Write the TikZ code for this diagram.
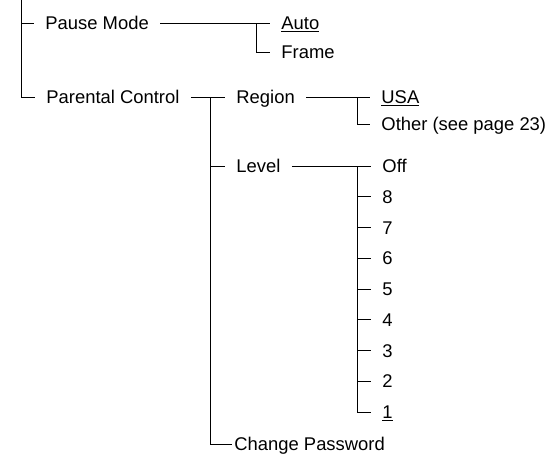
\documentclass[tikz,border=0pt]{standalone}
\usepackage{fontspec}
\setmainfont{Liberation Sans}
\usetikzlibrary{calc}

\begin{document}
\begin{tikzpicture}[x=1pt,y=-1pt,line width=0.9pt,
  item/.style={anchor=west,inner xsep=11pt,inner ysep=0pt,
    text height=13.2pt,text depth=0pt,font=\fontsize{18.4}{22}\selectfont}]
\useasboundingbox (0,0) rectangle (551,455);
\coordinate (top) at (21,0);
\coordinate (pmj) at (256,23);
\coordinate (pcj) at (210,97);
\coordinate (rgj) at (357,97);
\coordinate (lvj) at (357,166);
% first level
\node[item] (pause) at (34,23) {Pause Mode};
\node[item] (parent) at (35,97) {Parental Control};
\draw (top) |- (pause.west);
\draw (top) |- (parent.west);
% pause mode
\node[item] (auto) at (270,23) {\underline{Auto}};
\node[item] (frame) at (270,52) {Frame};
\draw (pause.east) -- (auto.west);
\draw (pmj) |- (frame.west);
% parental control
\node[item] (region) at (225,97) {Region};
\node[item] (level) at (225,166) {Level};
\node[item,inner xsep=2pt] (passwd) at (232,444) {Change Password};
\draw (parent.east) -- (region.west);
\draw (pcj) |- (level.west);
\draw (pcj) |- (passwd.west);
% region
\node[item] (usa) at (370,97) {\underline{USA}};
\node[item] (other) at (370,124) {Other (see page 23)};
\draw (region.east) -- (usa.west);
\draw (rgj) |- (other.west);
% level
\node[item] (off) at (371,166) {Off};
\draw (level.east) -- (off.west);
\foreach \lv [count=\i] in {8,7,6,5,4,3,2}
  \node[item] (lv\lv) at (371,166+\i*30.75) {\lv};
\node[item] (lv1) at (371,412) {\underline{1}};
\foreach \lv in {8,7,6,5,4,3,2}
  \draw (lvj |- lv\lv.west) -- (lv\lv.west);
\draw (lvj) |- (lv1.west);
\end{tikzpicture}
\end{document}
